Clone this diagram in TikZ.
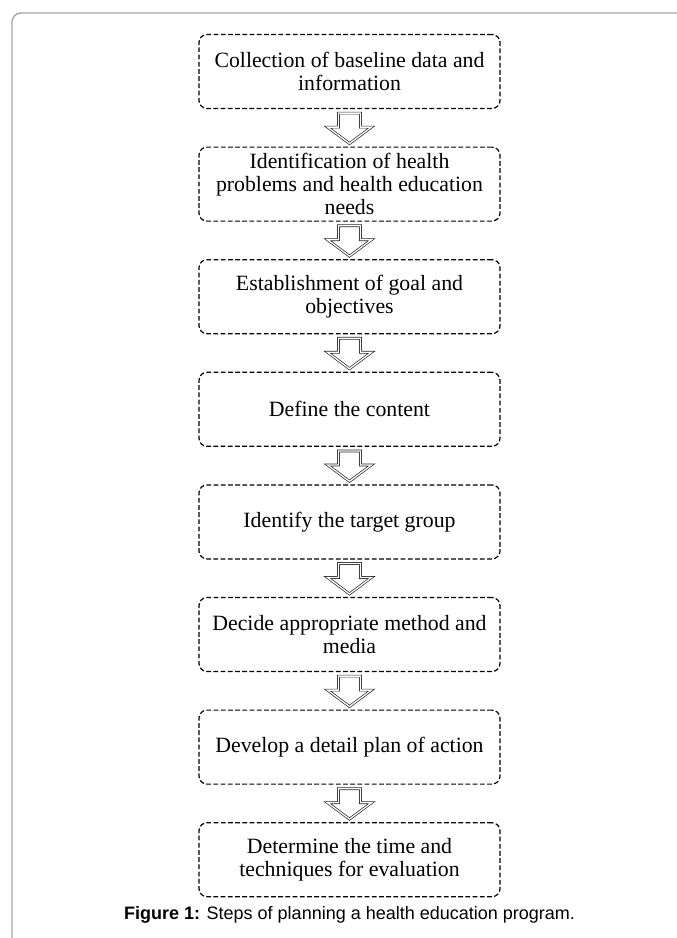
\documentclass[tikz,border=0pt]{standalone}
\usepackage{fontspec}
\setmainfont{Liberation Serif}
\newfontfamily\capfont{Liberation Sans}
\usetikzlibrary{calc}
\tikzset{
  stepbox/.style={draw=black, line width=1.2pt, dash pattern=on 4.8pt off 2.4pt,
    rounded corners=8pt, minimum width=301pt, minimum height=74pt, align=center,
    inner sep=0pt, font=\fontsize{21.8}{23}\selectfont},
  fatarrow/.style={draw=black!85, line width=0.7pt, double=white, double distance=1.3pt, line join=miter},
  frame/.style={draw=black!35, line width=1.4pt, rounded corners=9pt}
}
\newcommand\fatarr[2]{%
  \draw[fatarrow] ($(#1.south)+(-11,-4)$) -- ($(#1.south)+(-11,-18)$) -- ($(#1.south)+(-22,-18)$)
    -- ($(#2.north)+(0,3)$) -- ($(#1.south)+(22,-18)$) -- ($(#1.south)+(11,-18)$)
    -- ($(#1.south)+(11,-4)$) -- cycle;}
\begin{document}
\begin{tikzpicture}[x=1pt,y=1pt]
\useasboundingbox (0,0) rectangle (677,-938);
\draw[frame] (12,-938) -- (12,-13) -- (677,-13);
\node[stepbox] (b1) at (349.5,-71.5) {Collection of baseline data and\\information};
\node[stepbox] (b2) at (349.5,-184.1) {Identification of health\\problems and health education\\needs};
\node[stepbox] (b3) at (349.5,-296.7) {Establishment of goal and\\objectives};
\node[stepbox] (b4) at (349.5,-409.3) {Define the content};
\node[stepbox] (b5) at (349.5,-521.9) {Identify the target group};
\node[stepbox] (b6) at (349.5,-634.5) {Decide appropriate method and\\media};
\node[stepbox] (b7) at (349.5,-747.1) {Develop a detail plan of action};
\node[stepbox] (b8) at (349.5,-859.7) {Determine the time and\\techniques for evaluation};
\fatarr{b1}{b2}
\fatarr{b2}{b3}
\fatarr{b3}{b4}
\fatarr{b4}{b5}
\fatarr{b5}{b6}
\fatarr{b6}{b7}
\fatarr{b7}{b8}
\node[font=\capfont\fontsize{18}{21}\selectfont, anchor=base] (cap) at (349.5,-919)
  {\textbf{Figure 1:} Steps of planning a health education program.};
\end{tikzpicture}
\end{document}
